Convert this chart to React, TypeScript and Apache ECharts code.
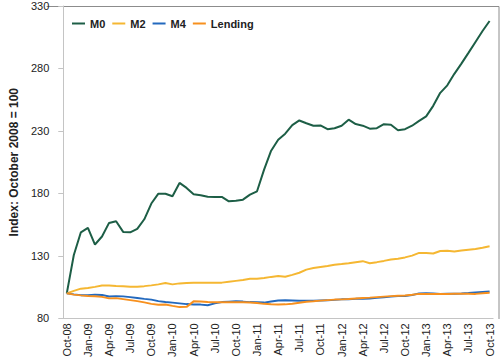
import React, { useEffect, useRef } from "react";
import * as echarts from "echarts";

const months = [
  "Oct-08", "Nov-08", "Dec-08",
  "Jan-09", "Feb-09", "Mar-09", "Apr-09", "May-09", "Jun-09", "Jul-09", "Aug-09", "Sep-09", "Oct-09", "Nov-09", "Dec-09",
  "Jan-10", "Feb-10", "Mar-10", "Apr-10", "May-10", "Jun-10", "Jul-10", "Aug-10", "Sep-10", "Oct-10", "Nov-10", "Dec-10",
  "Jan-11", "Feb-11", "Mar-11", "Apr-11", "May-11", "Jun-11", "Jul-11", "Aug-11", "Sep-11", "Oct-11", "Nov-11", "Dec-11",
  "Jan-12", "Feb-12", "Mar-12", "Apr-12", "May-12", "Jun-12", "Jul-12", "Aug-12", "Sep-12", "Oct-12", "Nov-12", "Dec-12",
  "Jan-13", "Feb-13", "Mar-13", "Apr-13", "May-13", "Jun-13", "Jul-13", "Aug-13", "Sep-13", "Oct-13",
];

const m0 = [
  100, 130.7, 148.9, 152.4, 139.1, 145.5, 156.4, 157.7, 149.2, 148.9, 151.6, 159.3, 171.9, 179.8, 179.7,
  177.7, 188.4, 184.4, 179.4, 178.6, 177.4, 177.2, 177.2, 173.7, 174.2, 175.0, 179.0, 181.7,
  199, 214.2, 223, 227.8, 234.6, 238.4, 236.2, 234.2, 234.4, 231.4, 232.2, 234.2, 239, 235.5,
  234.2, 231.8, 232.2, 235.4, 235, 230.6, 231.4, 234.2, 238.1, 241.7, 250.1, 260.5, 266.5,
  275.7, 283.9, 292.5, 301.2, 310, 318,
];

const m2 = [
  100, 102, 103.8, 104.3, 105.2, 106.3, 106.4, 106, 105.7, 105.4, 105.3, 105.8, 106.4, 107.2, 108.3,
  107.2, 108, 108.3, 108.5, 108.5, 108.5, 108.5, 108.6, 109.3, 110, 110.7, 111.7, 111.8,
  112.3, 113.2, 113.9, 113.3, 114.8, 116.5, 119, 120.3, 121.2, 122, 122.9, 123.5, 124.2, 125,
  125.8, 124.1, 125, 126, 127.1, 127.8, 128.8, 130.2, 132.4, 132.3, 131.9, 133.9, 134.1,
  133.5, 134.3, 135, 135.6, 136.5, 137.7,
];

const m4 = [
  100, 99.2, 98.6, 98.6, 99, 98.8, 97.5, 97.8, 97.6, 97, 96.3, 95.6, 95, 93.8, 93.1,
  92.6, 92, 91.4, 91, 91, 90.5, 92, 93, 93.3, 93.6, 93.4, 93.0, 92.9,
  92.6, 93.5, 94.3, 94.4, 94.2, 94, 94, 94.1, 94.3, 94.4, 94.8, 95.2, 95.3, 95.6,
  95.7, 95.9, 96.4, 96.9, 97.4, 97.9, 97.9, 98.6, 100, 100.1, 100, 99.6, 99.7,
  99.8, 100, 100.3, 100.8, 101.2, 101.6,
];

const lending = [
  100, 99, 98.4, 97.9, 97.7, 97.2, 96, 96.2, 95.4, 94.6, 93.8, 92.8, 91.6, 90.9, 91.1,
  90, 89, 89.2, 93.6, 93.5, 93.1, 92.9, 92.8, 92.8, 92.8, 92.8, 92.7, 92.3,
  91.6, 91.2, 91.1, 91.2, 91.7, 92.5, 93.3, 93.7, 94.2, 94.6, 95, 95.2, 95.5, 95.9,
  96.3, 96.6, 97, 97.4, 97.8, 98.1, 98.3, 98.9, 99.6, 99.6, 99.6, 99.6, 99.6,
  99.7, 99.8, 99.7, 99.6, 100.1, 100.5,
];

const seriesNames = ["M0", "M2", "M4", "Lending"];
const seriesColors = ["#1D5E46", "#F5B732", "#2369BE", "#F7901E"];
const yTitle = "Index: October 2008 = 100";

const FONT = "'Liberation Sans', Arial, sans-serif";

export default function App() {
  const ref = useRef<HTMLDivElement>(null);
  useEffect(() => {
    if (!ref.current) return;
    const chart = echarts.init(ref.current, null, { renderer: "svg" });
    const dataSets = [m0, m2, m4, lending];
    chart.setOption({
      animation: false,
      backgroundColor: "#ffffff",
      textStyle: { fontFamily: FONT },
      grid: { left: 46.6, right: 6.9, top: 6, bottom: 41, containLabel: false },
      legend: {
        left: 72,
        top: 18,
        padding: 0,
        icon: "rect",
        itemWidth: 13,
        itemHeight: 2,
        itemGap: 7,
        textStyle: { fontFamily: FONT, fontSize: 11, fontWeight: "bold", color: "#222" },
        data: seriesNames,
      },
      graphic: [
        {
          type: "polyline",
          silent: true,
          z: 0,
          shape: { points: [[46.6, 6.5], [499, 6.5], [499, 319]] },
          style: { stroke: "#8c8c8c", lineWidth: 1, fill: "none" },
        },
      ],
      xAxis: {
        type: "category",
        data: months,
        boundaryGap: true,
        axisLine: { lineStyle: { color: "#c4c4c4", width: 1 } },
        axisTick: { interval: 2, length: 5, lineStyle: { color: "#c4c4c4" } },
        axisLabel: {
          interval: 2,
          rotate: 90,
          margin: 5,
          fontSize: 11,
          fontFamily: FONT,
          color: "#222",
        },
        splitLine: { show: false },
      },
      yAxis: {
        type: "value",
        min: 80,
        max: 330,
        interval: 50,
        name: yTitle,
        nameLocation: "middle",
        nameGap: 35,
        nameTextStyle: { fontFamily: FONT, fontSize: 12, fontWeight: "bold", color: "#222" },
        axisLine: { show: true, lineStyle: { color: "#c4c4c4", width: 1 } },
        axisTick: { show: true, length: 5, lineStyle: { color: "#c4c4c4" } },
        axisLabel: { fontSize: 11, fontFamily: FONT, color: "#222", margin: 14 },
        splitLine: { show: false },
      },
      series: seriesNames.map((name, i) => ({
        name,
        type: "line",
        data: dataSets[i],
        symbol: "none",
        smooth: false,
        lineStyle: { color: seriesColors[i], width: 2 },
        itemStyle: { color: seriesColors[i] },
      })),
    });
    return () => chart.dispose();
  }, []);
  return <div ref={ref} style={{ width: 500, height: 360, position: "absolute", left: 0, top: 0 }} />;
}
